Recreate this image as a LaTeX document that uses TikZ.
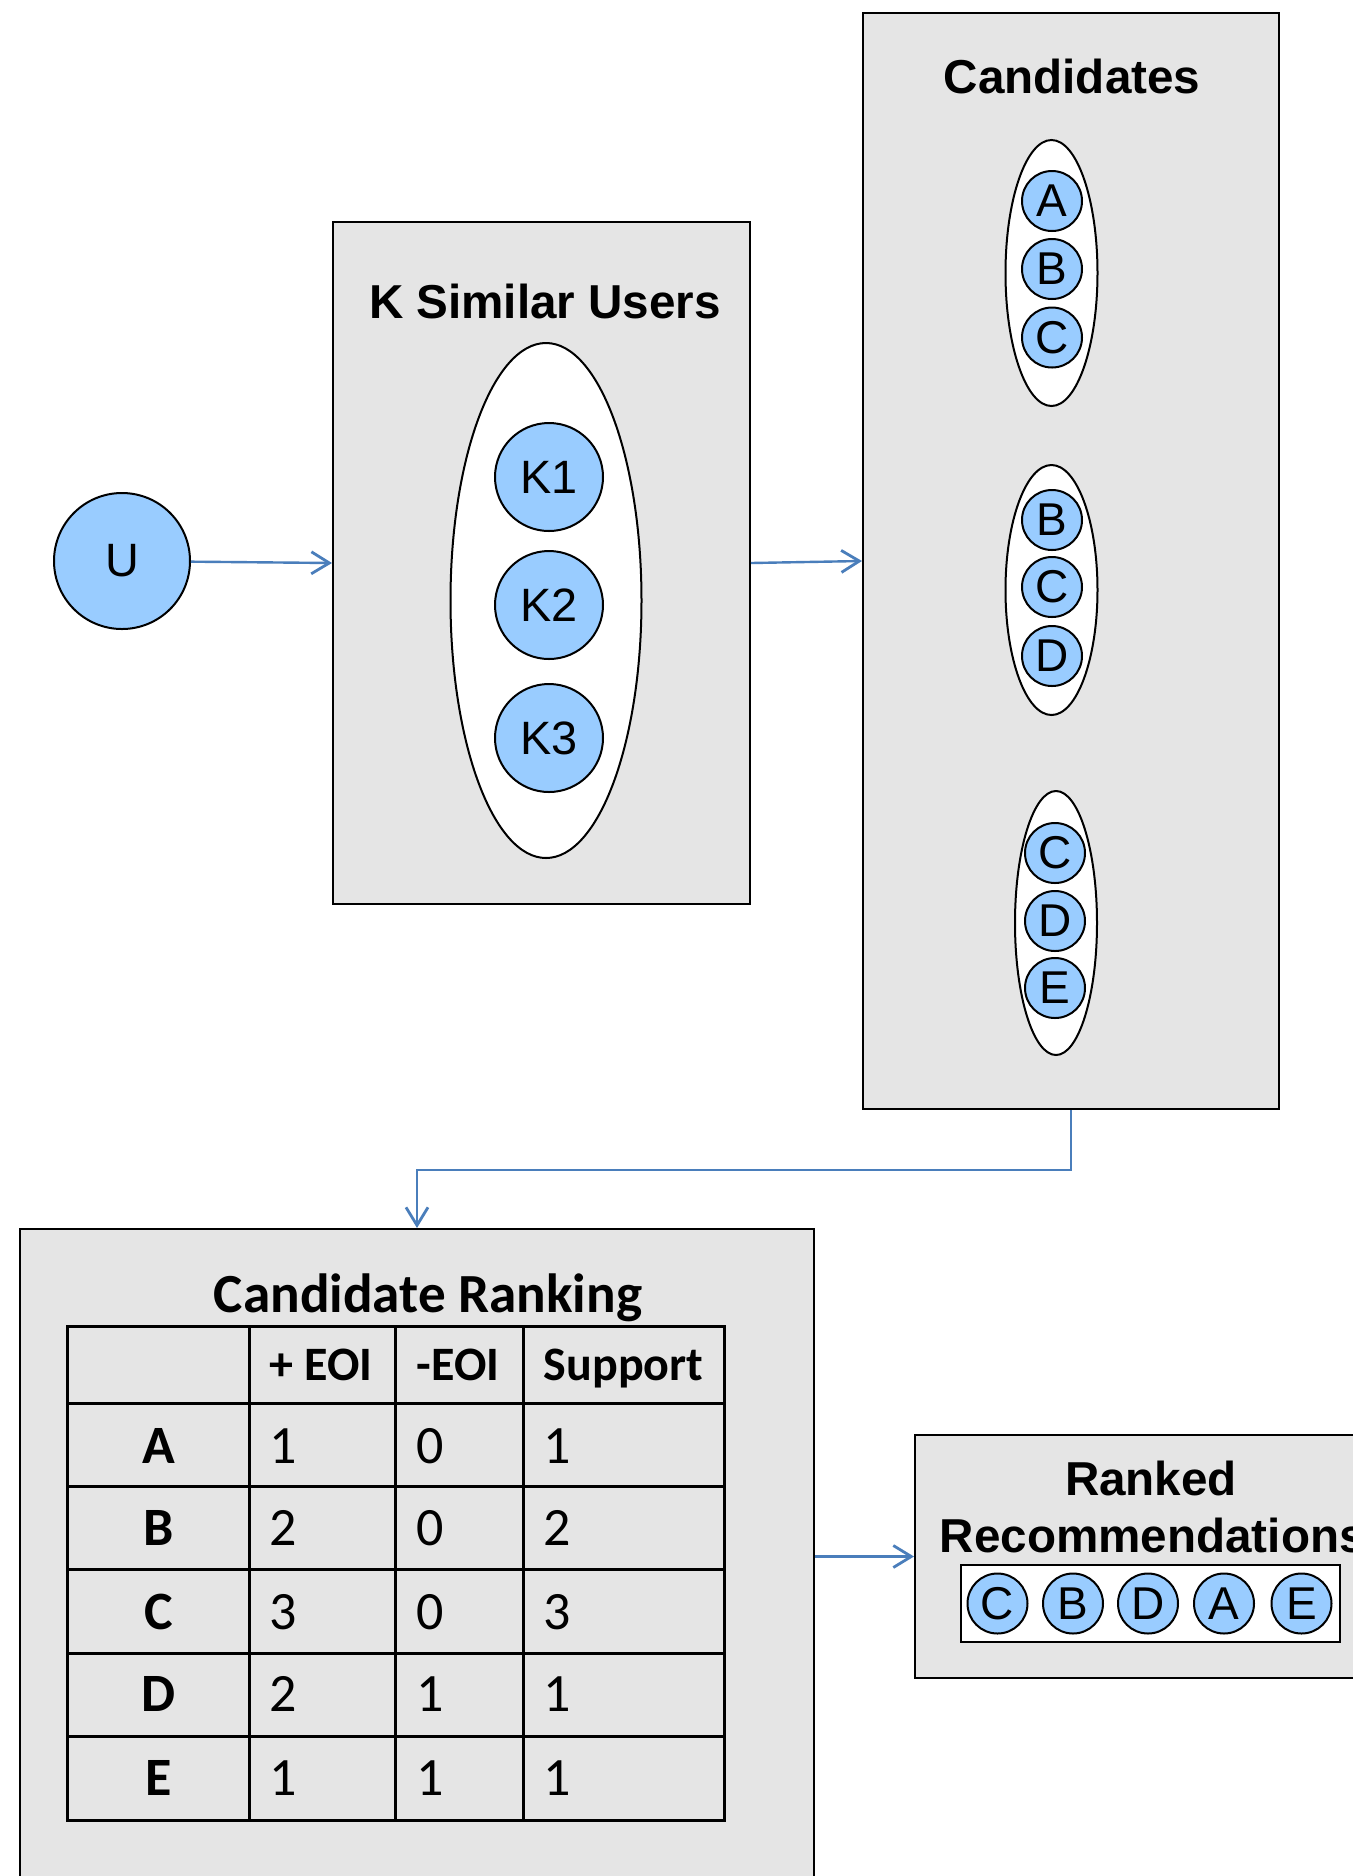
\documentclass[tikz,border=0pt]{standalone}
\usepackage{fontspec}
\setmainfont{Liberation Sans}
\newfontfamily\calibfont{Carlito}
\usetikzlibrary{arrows.meta,shapes.geometric}
\definecolor{boxgray}{HTML}{E5E5E5}
\definecolor{itemblue}{HTML}{99CCFF}
\definecolor{flowblue}{HTML}{4A7EBB}

\begin{document}
\begin{tikzpicture}[x=0.25pt,y=0.25pt]
\tikzstyle{every node}+=[inner sep=0pt]
\tikzstyle{stage}=[draw=black, fill=boxgray, line width=0.5pt, rectangle]
\tikzstyle{group}=[draw=black, fill=white, line width=0.5pt, ellipse]
\tikzstyle{user}=[draw=black, fill=itemblue, line width=0.5pt, circle, minimum size=27pt, font=\fontsize{11.7}{14}\selectfont]
\tikzstyle{item}=[draw=black, fill=itemblue, line width=0.5pt, circle, minimum size=15pt, font=\fontsize{11.5}{14}\selectfont]
\tikzstyle{title}=[font=\bfseries\fontsize{11.9}{14}\selectfont]
\tikzstyle{head}=[anchor=base west, font=\calibfont\bfseries\fontsize{12}{14}\selectfont]
\tikzstyle{rowname}=[anchor=base, font=\calibfont\bfseries\fontsize{13.5}{16}\selectfont]
\tikzstyle{cell}=[anchor=base west, font=\calibfont\fontsize{13.5}{16}\selectfont]
\tikzstyle{flow}=[draw=flowblue, line width=0.6pt, -{Straight Barb[length=4.5pt,width=5.5pt,line width=0.7pt]}]
\useasboundingbox (0,0) rectangle (1352,-1876);
\fill [white] (0,0) rectangle (1352,-1876);
\node [stage, minimum width=104.25pt, minimum height=170.5pt] (simbox) at (541.5,-563) {};
\node [stage, minimum width=104pt, minimum height=274pt] (candbox) at (1071,-561) {};
\node [stage, minimum width=198.5pt, minimum height=170pt] (rankbox) at (417,-1569) {};
\node [stage, minimum width=115pt, minimum height=60.75pt] (recbox) at (1145,-1556.5) {};
\node [title, anchor=base] (simtitle) at (545,-318) {K Similar Users};
\node [title, anchor=base] (candtitle) at (1072,-93) {Candidates};
\node [anchor=base, font=\calibfont\bfseries\fontsize{13.8}{16}\selectfont] (ranktitle) at (428,-1312) {Candidate Ranking};
\node [title, anchor=base] (rectitle) at (1151,-1495) {Ranked};
\node [title, anchor=base west] (recsub) at (939,-1552) {Recommendations};
\node [user, minimum size=34pt] (u) at (122,-561) {U};
\node [group, minimum width=47.75pt, minimum height=128.75pt] (simgroup) at (546,-600.5) {};
\node [user] (k1) at (549,-477) {K1};
\node [user] (k2) at (549,-605) {K2};
\node [user] (k3) at (549,-738) {K3};
\node [group, minimum width=23pt, minimum height=66.5pt] (setone) at (1051.5,-273) {};
\node [item] (a1) at (1052,-201) {A};
\node [item] (b1) at (1052,-269) {B};
\node [item] (c1) at (1052,-337.5) {C};
\node [group, minimum width=23pt, minimum height=62.5pt] (settwo) at (1051.5,-590) {};
\node [item] (b2) at (1052,-520) {B};
\node [item] (c2) at (1052,-587) {C};
\node [item] (d2) at (1052,-656) {D};
\node [group, minimum width=20.5pt, minimum height=66pt] (setthree) at (1056,-923) {};
\node [item] (c3) at (1055,-853) {C};
\node [item] (d3) at (1055,-921) {D};
\node [item] (e3) at (1055,-988) {E};
\node [draw=black, fill=white, line width=0.5pt, minimum width=94.8pt, minimum height=19.25pt] (reclist) at (1150.3,-1603.3) {};
\node [item] (rc) at (997.5,-1603.5) {C};
\node [item] (rb) at (1073,-1603.5) {B};
\node [item] (rd) at (1148,-1603.5) {D};
\node [item] (ra) at (1224,-1603.5) {A};
\node [item] (re) at (1301.5,-1603.5) {E};
\draw [flow] (u) -- (simbox.west);
\draw [flow] (simbox.east) -- (candbox.west);
\draw [flow] (candbox.south) -- ++(0,-60) -| (rankbox.north);
\draw [flow] (rankbox.east |- recbox.west) -- (recbox.west);
\draw [line width=0.75pt] (67,-1326) rectangle (724,-1820.5);
\draw [line width=0.75pt] (249,-1326) -- (249,-1820.5);
\draw [line width=0.75pt] (395.5,-1326) -- (395.5,-1820.5);
\draw [line width=0.75pt] (523,-1326) -- (523,-1820.5);
\draw [line width=0.75pt] (67,-1403) -- (724,-1403);
\draw [line width=0.75pt] (67,-1486.5) -- (724,-1486.5);
\draw [line width=0.75pt] (67,-1569) -- (724,-1569);
\draw [line width=0.75pt] (67,-1653) -- (724,-1653);
\draw [line width=0.75pt] (67,-1736.5) -- (724,-1736.5);
\node [head] (hpos) at (269,-1380) {+ EOI};
\node [head] (hneg) at (416,-1380) {-EOI};
\node [head] (hsup) at (543,-1380) {Support};
\node [rowname] (ra0) at (158.5,-1463) {A};
\node [cell] (ra1) at (269,-1463) {1};
\node [cell] (ra2) at (416,-1463) {0};
\node [cell] (ra3) at (543,-1463) {1};
\node [rowname] (rb0) at (158.5,-1545.5) {B};
\node [cell] (rb1) at (269,-1545.5) {2};
\node [cell] (rb2) at (416,-1545.5) {0};
\node [cell] (rb3) at (543,-1545.5) {2};
\node [rowname] (rc0) at (158.5,-1629) {C};
\node [cell] (rc1) at (269,-1629) {3};
\node [cell] (rc2) at (416,-1629) {0};
\node [cell] (rc3) at (543,-1629) {3};
\node [rowname] (rd0) at (158.5,-1711.5) {D};
\node [cell] (rd1) at (269,-1711.5) {2};
\node [cell] (rd2) at (416,-1711.5) {1};
\node [cell] (rd3) at (543,-1711.5) {1};
\node [rowname] (re0) at (158.5,-1795) {E};
\node [cell] (re1) at (269,-1795) {1};
\node [cell] (re2) at (416,-1795) {1};
\node [cell] (re3) at (543,-1795) {1};
\end{tikzpicture}
\end{document}
